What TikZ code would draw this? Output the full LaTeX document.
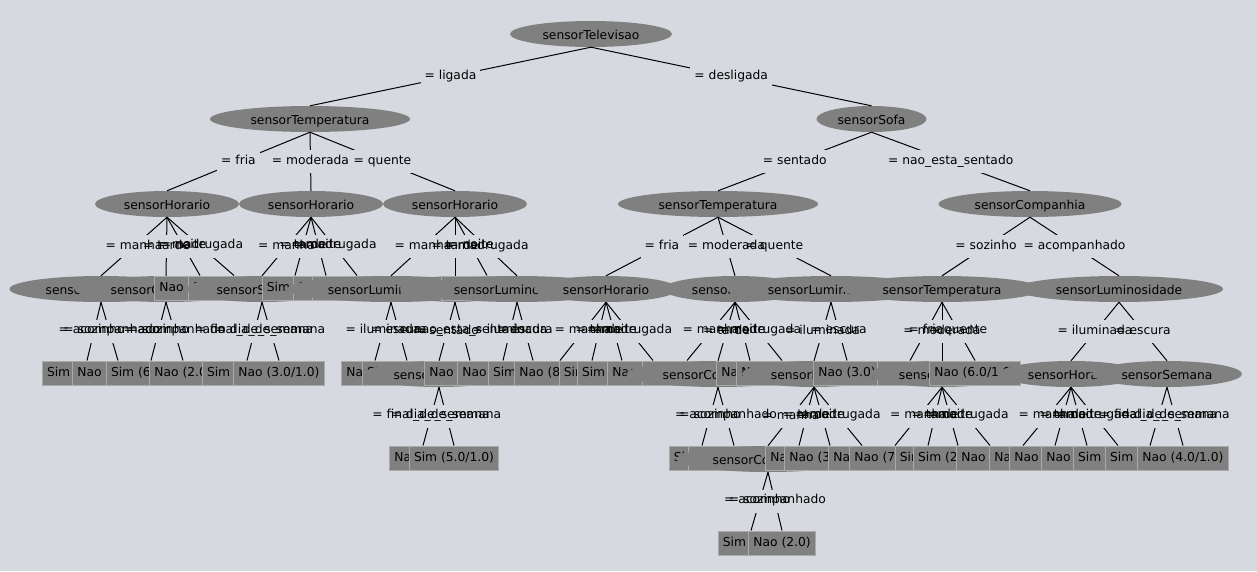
\documentclass[tikz,border=0pt]{standalone}
\usepackage{fontspec}
\setmainfont{DejaVu Sans}
\usetikzlibrary{shapes.geometric}
\definecolor{bgc}{RGB}{214,217,223}
\definecolor{ngray}{RGB}{128,128,128}
\definecolor{bedge}{RGB}{170,170,170}
\newcommand\nfont{\fontsize{12.3}{14}\selectfont}
\newcommand\myE[4]{\node[enode,#4] (#1) at (#2,#3) {\csname txt#4\endcsname};}
\newcommand\myB[4]{\node[bnode] (#1) at (#2,#3-1) {#4};}
\newcommand\txtTel{sensorTelevisao}
\newcommand\txtTem{sensorTemperatura}
\newcommand\txtSof{sensorSofa}
\newcommand\txtHor{sensorHorario}
\newcommand\txtCom{sensorCompanhia}
\newcommand\txtSem{sensorSemana}
\newcommand\txtLum{sensorLuminosidade}
\tikzset{
 enode/.style={ellipse, fill=ngray, inner sep=0pt, minimum height=26pt, font=\nfont, text height=11pt, text depth=1pt},
 Tel/.style={minimum width=162pt},
 Tem/.style={minimum width=200pt},
 Sof/.style={minimum width=110pt},
 Hor/.style={minimum width=144pt},
 Com/.style={minimum width=183pt},
 Sem/.style={minimum width=150pt},
 Lum/.style={minimum width=208pt},
 bnode/.style={rectangle, fill=ngray, draw=bedge, line width=1pt, inner xsep=4.5pt, inner ysep=0pt, minimum height=24pt, font=\nfont, text height=9pt, text depth=3pt},
 lnk/.style={draw=black, line width=1pt},
 lblbg/.style={fill=bgc, inner xsep=4pt, inner ysep=5.5pt, font=\nfont, text height=8.5pt, text depth=3.5pt},
 lbltxt/.style={inner xsep=4pt, inner ysep=5.5pt, font=\nfont, text height=8.5pt, text depth=3.5pt},
}
\newcommand\edgelist{%
\lk{T}{TL}{= ligada}\lk{T}{S}{= desligada}%
\lk{TL}{H1}{= fria}\lk{TL}{H2}{= moderada}\lk{TL}{H3}{= quente}%
\lk{S}{T2}{= sentado}\lk{S}{C}{= nao\_esta\_sentado}%
\lk{H1}{Ea}{= manha}\lk{H1}{Eb}{= tarde}\lk{H1}{Bc}{= noite}\lk{H1}{Bd}{= madrugada}%
\lk{H2}{Ee}{= manha}\lk{H2}{Bf}{= tarde}\lk{H2}{Bg}{= noite}\lk{H2}{Bh}{= madrugada}%
\lk{H3}{Ei}{= manha}\lk{H3}{Ej}{= tarde}\lk{H3}{Bk}{= noite}\lk{H3}{El}{= madrugada}%
\lk{T2}{Em}{= fria}\lk{T2}{En}{= moderada}\lk{T2}{Eo}{= quente}%
\lk{C}{T3}{= sozinho}\lk{C}{EL}{= acompanhado}%
\lk{Ea}{a1}{= sozinho}\lk{Ea}{a2}{= acompanhado}%
\lk{Eb}{b1}{= sozinho}\lk{Eb}{b2}{= acompanhado}%
\lk{Ee}{e1}{= final\_de\_semana}\lk{Ee}{e2}{= dia\_de\_semana}%
\lk{Ei}{i1}{= iluminada}\lk{Ei}{i2}{= escura}%
\lk{Ej}{j1}{= sentado}\lk{Ej}{j2}{= nao\_esta\_sentado}%
\lk{El}{l1}{= iluminada}\lk{El}{l2}{= escura}%
\lk{Em}{m1}{= manha}\lk{Em}{m2}{= tarde}\lk{Em}{m3}{= noite}\lk{Em}{m4}{= madrugada}%
\lk{En}{n1}{= manha}\lk{En}{n2}{= tarde}\lk{En}{n3}{= noite}\lk{En}{n4}{= madrugada}%
\lk{Eo}{o1}{= iluminada}\lk{Eo}{o2}{= escura}%
\lk{T3}{t1}{= fria}\lk{T3}{t2}{= moderada}\lk{T3}{t3}{= quente}%
\lk{EL}{L1}{= iluminada}\lk{EL}{L2}{= escura}%
\lk{j1}{j11}{= final\_de\_semana}\lk{j1}{j12}{= dia\_de\_semana}%
\lk{n2}{n21}{= sozinho}\lk{n2}{n22}{= acompanhado}%
\lk{o1}{o11}{= manha}\lk{o1}{o12}{= tarde}\lk{o1}{o13}{= noite}\lk{o1}{o14}{= madrugada}%
\lk{t2}{t21}{= manha}\lk{t2}{t22}{= tarde}\lk{t2}{t23}{= noite}\lk{t2}{t24}{= madrugada}%
\lk{L1}{L11}{= manha}\lk{L1}{L12}{= tarde}\lk{L1}{L13}{= noite}\lk{L1}{L14}{= madrugada}%
\lk{L2}{L21}{= final\_de\_semana}\lk{L2}{L22}{= dia\_de\_semana}%
\lk{o11}{o111}{= sozinho}\lk{o11}{o112}{= acompanhado}%
}
\begin{document}
\begin{tikzpicture}[x=1pt,y=-1pt]
\fill[bgc] (0,0) rectangle (1257,571);
\useasboundingbox (0,0) rectangle (1257,571);
% rows 0-2
\myE{T}{591}{34}{Tel}
\myE{TL}{310}{119}{Tem}
\myE{S}{871.5}{119}{Sof}
\myE{H1}{167}{204}{Hor}
\myE{H2}{311}{204}{Hor}
\myE{H3}{455}{204}{Hor}
\myE{T2}{718}{204}{Tem}
\myE{C}{1030}{204}{Com}
% row 3
\myE{Ea}{101}{289}{Com}
\myE{Eb}{166}{289}{Com}
\myB{Bc}{200}{289}{Nao (4.0/1.0)}
\myB{Bd}{234}{289}{Nao (3.0/1.0)}
\myE{Ee}{262}{289}{Sem}
\myB{Bf}{295}{289}{Sim (2.0)}
\myB{Bg}{326}{289}{Sim (3.0)}
\myB{Bh}{357}{289}{Sim (3.0/1.0)}
\myE{Ei}{391}{289}{Lum}
\myE{Ej}{455}{289}{Sof}
\myB{Bk}{487}{289}{Nao (5.0/2.0)}
\myE{El}{517}{289}{Lum}
\myE{Em}{606}{289}{Hor}
\myE{En}{735}{289}{Hor}
\myE{Eo}{831}{289}{Lum}
\myE{T3}{942}{289}{Tem}
\myE{EL}{1119}{289}{Lum}
% row 4
\myB{a1}{87}{374}{Sim (3.0/1.0)}
\myB{a2}{118}{374}{Nao (3.0/1.0)}
\myB{b1}{151}{374}{Sim (6.0/1.0)}
\myB{b2}{183}{374}{Nao (2.0)}
\myB{e1}{247}{374}{Sim (2.0/1.0)}
\myB{e2}{279}{374}{Nao (3.0/1.0)}
\myB{i1}{375}{374}{Nao (2.0)}
\myB{i2}{407}{374}{Sim (4.0/1.0)}
\myE{j1}{439}{374}{Sem}
\myB{j2}{470}{374}{Nao (3.0/1.0)}
\myB{l1}{503}{374}{Nao (6.0/2.0)}
\myB{l2}{533}{374}{Sim (4.0/1.0)}
\myB{m1}{560}{374}{Nao (8.0/2.0)}
\myB{m2}{592}{374}{Sim (2.0)}
\myB{m3}{622}{374}{Sim (3.0/1.0)}
\myB{m4}{653}{374}{Nao (4.0/1.0)}
\myB{n1}{687}{374}{Sim (3.0/1.0)}
\myE{n2}{718}{374}{Com}
\myB{n3}{750}{374}{Nao (2.0)}
\myB{n4}{782}{374}{Nao (3.0/1.0)}
\myE{o1}{814}{374}{Hor}
\myB{o2}{847}{374}{Nao (3.0)}
\myB{t1}{910}{374}{Sim (3.0)}
\myE{t2}{942}{374}{Hor}
\myB{t3}{975}{374}{Nao (6.0/1.0)}
\myE{L1}{1071}{374}{Hor}
\myE{L2}{1167}{374}{Sem}
% row 5
\myB{j11}{423}{459}{Nao (2.0)}
\myB{j12}{454}{459}{Sim (5.0/1.0)}
\myB{n21}{702}{459}{Sim (2.0)}
\myB{n22}{734}{459}{Nao (3.0/1.0)}
\myE{o11}{768}{459}{Com}
\myB{o12}{799}{459}{Nao (2.0)}
\myB{o13}{830}{459}{Nao (3.0/1.0)}
\myB{o14}{862}{459}{Nao (2.0)}
\myB{t21}{895}{459}{Nao (7.0/1.0)}
\myB{t22}{928}{459}{Sim (2.0)}
\myB{t23}{958}{459}{Sim (2.0/1.0)}
\myB{t24}{990}{459}{Nao (2.0)}
\myB{L11}{1023}{459}{Nao (3.0)}
\myB{L12}{1055}{459}{Nao (4.0/1.0)}
\myB{L13}{1087}{459}{Nao (3.0/1.0)}
\myB{L14}{1118}{459}{Sim (3.0/1.0)}
\myB{L21}{1150}{459}{Sim (2.0/1.0)}
\myB{L22}{1183}{459}{Nao (4.0/1.0)}
% row 6
\myB{o111}{751}{544}{Sim (2.0)}
\myB{o112}{782}{544}{Nao (2.0)}
% connectors: lines, label backgrounds, label texts
\def\lk#1#2#3{\draw[lnk] (#1.south) -- (#2.north);}
\edgelist
\def\lk#1#2#3{\path (#1.south) -- (#2.north) node[midway,lblbg] {\phantom{#3}};}
\edgelist
\def\lk#1#2#3{\path (#1.south) -- (#2.north) node[midway,lbltxt] {#3};}
\edgelist
\end{tikzpicture}
\end{document}
